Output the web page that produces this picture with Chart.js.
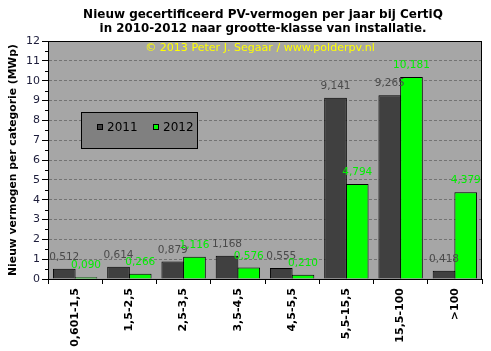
<!DOCTYPE html>
<html><head><meta charset="utf-8">
<script src="https://cdn.jsdelivr.net/npm/chart.js@4"></script>
<style>html,body{margin:0;padding:0;background:#fff}#wrap{width:491px;height:351px}</style>
</head><body><div id="wrap"><canvas id="c" width="491" height="351"></canvas></div>
<script>
const categories = ['0,601-1,5','1,5-2,5','2,5-3,5','3,5-4,5','4,5-5,5','5,5-15,5','15,5-100','>100'];
const series2011 = [0.512,0.614,0.879,1.168,0.555,9.141,9.265,0.418];
const series2012 = [0.090,0.266,1.116,0.576,0.210,4.794,10.181,4.379];
const seriesNames = ['2011','2012'];
const yTicks = [0,1,2,3,4,5,6,7,8,9,10,11,12];
const titleLines = ['Nieuw gecertificeerd PV-vermogen per jaar bij CertiQ','in 2010-2012 naar grootte-klasse van installatie.'];
const copyrightText = '\u00A9 2013 Peter J. Segaar / www.polderpv.nl';
const yAxisTitle = 'Nieuw vermogen per categorie (MWp)';

const FONT = '"DejaVu Sans", Verdana, sans-serif';
const barColors = ['#404040', '#00ff00'];
const labelColors = ['#4a4a4a', '#00ee00'];

function fitFont(ctx, text, weight, target) {
  ctx.font = weight + ' 20px ' + FONT;
  const w = ctx.measureText(text).width;
  return weight + ' ' + (20 * target / w).toFixed(2) + 'px ' + FONT;
}

const decor = {
  id: 'decor',
  beforeDraw(chart) {
    const {ctx, chartArea: a} = chart;
    ctx.save();
    ctx.fillStyle = '#a6a6a6';
    ctx.fillRect(a.left, a.top, a.right - a.left, a.bottom - a.top);
    ctx.restore();
  },
  afterDatasetsDraw(chart) {
    const {ctx, chartArea: a} = chart;
    const ys = chart.scales.y;
    ctx.save();
    // minor ticks at half steps
    ctx.strokeStyle = '#000';
    ctx.lineWidth = 1;
    ctx.beginPath();
    for (let k = 0; k < yTicks.length - 1; k++) {
      const py = Math.round(ys.getPixelForValue((yTicks[k] + yTicks[k + 1]) / 2)) + 0.5;
      ctx.moveTo(a.left - 3, py);
      ctx.lineTo(a.left, py);
    }
    ctx.stroke();
    // value labels
    ctx.font = '10.5px ' + FONT;
    ctx.textAlign = 'center';
    ctx.textBaseline = 'middle';
    chart.data.datasets.forEach((ds, i) => {
      const meta = chart.getDatasetMeta(i);
      meta.data.forEach((bar, j) => {
        const v = ds.data[j];
        ctx.fillStyle = labelColors[i];
        ctx.fillText(v.toFixed(3).replace('.', ','), bar.x, bar.y - 11.5);
      });
    });
    // frame
    ctx.strokeStyle = '#000';
    ctx.strokeRect(Math.round(a.left) + 0.5, Math.round(a.top) + 0.5, Math.round(a.right - a.left) - 1, Math.round(a.bottom - a.top));
    // copyright
    ctx.fillStyle = '#ffff00';
    ctx.font = fitFont(ctx, copyrightText, 'normal', 230);
    ctx.fillText(copyrightText, 260, 48);
    // legend
    const lx = a.left + 33, ly = a.top + 71, lw = 116, lh = 36;
    ctx.fillStyle = '#808080';
    ctx.fillRect(lx, ly, lw, lh);
    ctx.strokeRect(lx + 0.5, ly + 0.5, lw, lh);
    ctx.font = '12px ' + FONT;
    ctx.textAlign = 'left';
    const offs = [16, 72];
    seriesNames.forEach((n, i) => {
      const sx = lx + offs[i], sy = ly + 12;
      ctx.fillStyle = barColors[i];
      ctx.fillRect(sx, sy, 6, 6);
      ctx.strokeStyle = '#000';
      ctx.strokeRect(sx + 0.5, sy + 0.5, 5, 5);
      ctx.fillStyle = '#000';
      ctx.fillText(n, sx + 10, sy + 3.5);
    });
    // title
    ctx.textAlign = 'center';
    ctx.fillStyle = '#000';
    ctx.font = fitFont(ctx, titleLines[0], 'bold', 360);
    ctx.fillText(titleLines[0], 263, 15);
    ctx.font = fitFont(ctx, titleLines[1], 'bold', 327);
    ctx.fillText(titleLines[1], 263, 29);
    // y axis title
    ctx.translate(13, (a.top + a.bottom) / 2);
    ctx.rotate(-Math.PI / 2);
    ctx.font = fitFont(ctx, yAxisTitle, 'bold', 232);
    ctx.fillText(yAxisTitle, 0, 0);
    ctx.restore();
  }
};

new Chart(document.getElementById('c'), {
  type: 'bar',
  data: {
    labels: categories,
    datasets: [
      {label: seriesNames[0], data: series2011, backgroundColor: barColors[0], borderColor: '#000', borderWidth: 1, borderSkipped: 'bottom'},
      {label: seriesNames[1], data: series2012, backgroundColor: barColors[1], borderColor: '#000', borderWidth: 1, borderSkipped: 'bottom'}
    ]
  },
  options: {
    responsive: false,
    animation: false,
    devicePixelRatio: 1,
    layout: {padding: {top: 41, right: 9, left: 0, bottom: 0}},
    plugins: {legend: {display: false}, title: {display: false}, tooltip: {enabled: false}},
    datasets: {bar: {categoryPercentage: 0.8, barPercentage: 1.045}},
    scales: {
      x: {
        grid: {display: true, drawOnChartArea: false, offset: true, tickLength: 5, color: '#000', lineWidth: 1},
        border: {display: true, color: '#000'},
        ticks: {minRotation: 90, maxRotation: 90, color: '#000', font: {family: FONT, size: 11, weight: 'bold'}, padding: 4, autoSkip: false},
        afterFit(s) { s.height = 72; }
      },
      y: {
        min: 0, max: 12,
        afterBuildTicks(s) { s.ticks = yTicks.map(v => ({value: v})); },
        grid: {color: (c) => (c.tick && c.tick.value > 0 && c.tick.value < 12) ? '#737373' : 'rgba(0,0,0,0)', tickColor: '#000', tickLength: 6, tickBorderDash: [], lineWidth: 1},
        border: {display: true, color: '#000', dash: [3, 2]},
        ticks: {color: '#1c1c3a', font: {family: FONT, size: 11}, padding: 2},
        afterFit(s) { s.width = 48; }
      }
    }
  },
  plugins: [decor]
});
</script></body></html>
